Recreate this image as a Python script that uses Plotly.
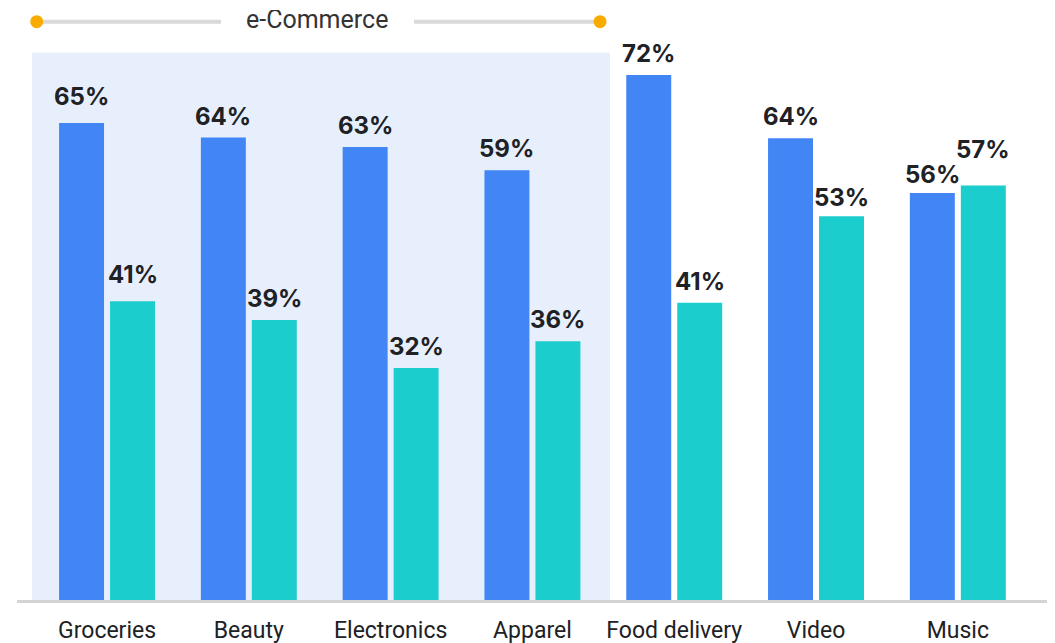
import plotly.graph_objects as go

categories = ["Groceries", "Beauty", "Electronics", "Apparel", "Food delivery", "Video", "Music"]
series_a = [65.6, 63.6, 62.3, 59.1, 72.2, 63.5, 56.0]
series_b = [41.1, 38.5, 31.9, 35.6, 40.9, 52.8, 57.0]
labels_a = [65, 64, 63, 59, 72, 64, 56]
labels_b = [41, 39, 32, 36, 41, 53, 57]
group_title = "e-Commerce"

BLUE = "#4285f4"
TEAL = "#1ccdcd"
TXT = "#202124"

# label placement tweaks (pixels above the default spot), per (category, series)
LABEL_NUDGE = {(0, 0): 5, (0, 1): 5, (5, 1): -3, (6, 0): -3, (6, 1): 15}

fig = go.Figure()
fig.add_bar(x=categories, y=series_a, marker=dict(color=BLUE, line=dict(width=0)),
            name="A", hoverinfo="skip")
fig.add_bar(x=categories, y=series_b, marker=dict(color=TEAL, line=dict(width=0)),
            name="B", hoverinfo="skip")

off = 0.18
annotations = []
for i in range(len(categories)):
    for s, (dx, v, lab) in enumerate(((-off, series_a[i], labels_a[i]),
                                      (off, series_b[i], labels_b[i]))):
        annotations.append(dict(
            x=i + dx, y=v, xref="x", yref="y", text=f"{lab}%", showarrow=False,
            yanchor="middle", xanchor="center", yshift=21.5 + LABEL_NUDGE.get((i, s), 0),
            font=dict(family="Inter", size=24, color=TXT, weight="bold")))

HY = 0.9769  # header line level (paper)
annotations.append(dict(x=1.48, y=HY, xref="x", yref="paper", text=group_title,
                        showarrow=False, xanchor="center", yanchor="middle", yshift=3,
                        height=18, valign="middle", borderpad=0,
                        font=dict(family="Roboto", size=25, color="#333333")))

shapes = [
    dict(type="rect", xref="x", yref="paper", x0=-0.529, x1=3.547, y0=0, y1=0.9245,
         fillcolor="#e8effc", line=dict(width=0), layer="below"),
    dict(type="line", xref="x", yref="paper", x0=-0.496, x1=0.804, y0=HY, y1=HY,
         line=dict(color="#d9d9d9", width=4)),
    dict(type="line", xref="x", yref="paper", x0=2.165, x1=3.477, y0=HY, y1=HY,
         line=dict(color="#d9d9d9", width=4)),
]
for xc in (-0.496, 3.477):
    shapes.append(dict(type="circle", xref="x", yref="paper", xsizemode="pixel",
                       ysizemode="pixel", xanchor=xc, yanchor=HY,
                       x0=-6.5, x1=6.5, y0=-6.5, y1=6.5,
                       fillcolor="#f9ab00", line=dict(width=0)))

fig.update_layout(
    width=1055, height=643,
    margin=dict(l=9, r=15, t=0, b=51, autoexpand=False),
    paper_bgcolor="white", plot_bgcolor="rgba(0,0,0,0)",
    barmode="group", bargap=0.281, bargroupgap=0.118,
    showlegend=False,
    annotations=annotations, shapes=shapes,
    xaxis=dict(type="category", range=[-0.635, 6.636], showgrid=False, zeroline=False,
               showline=True, linecolor="#d3d3d3", linewidth=3, ticks="",
               ticklabelstandoff=7,
               tickfont=dict(family="Roboto", size=23, color=TXT), automargin=False),
    yaxis=dict(range=[0, 81.43], visible=False, showgrid=False, zeroline=False),
)

fig.write_html("out.html")
